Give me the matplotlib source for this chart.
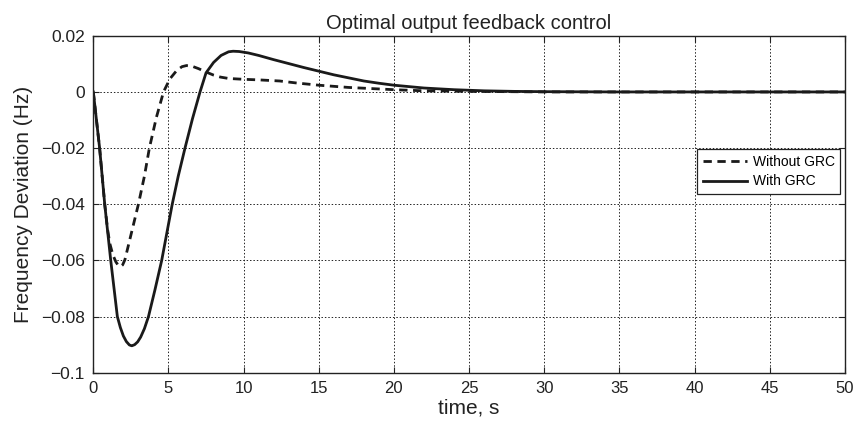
import matplotlib.pyplot as plt
import numpy as np

plt.rcParams['font.family'] = ['Liberation Sans', 'DejaVu Sans']

# With GRC (solid)
t_grc = [0, 0.42, 0.76, 1.16, 1.6, 1.8, 2.0, 2.2, 2.4, 2.56, 2.75, 2.95, 3.15,
         3.4, 3.67, 4.1, 4.55, 4.9, 5.25, 5.65, 6.1, 6.6, 7.1, 7.5, 8.0, 8.5,
         9.0, 9.3, 9.7, 10.3, 11, 12, 13, 14, 15, 16, 17, 18, 19, 20, 22, 24,
         26, 28, 30, 35, 50]
f_grc = [0, -0.020, -0.040, -0.060, -0.080, -0.0839, -0.0869, -0.0889, -0.0901,
         -0.0904, -0.0900, -0.0890, -0.0873, -0.0843, -0.080, -0.0705, -0.060,
         -0.050, -0.040, -0.030, -0.020, -0.0095, 0, 0.0068, 0.0105, 0.0130,
         0.0143, 0.0145, 0.0144, 0.0139, 0.0130, 0.0115, 0.0101, 0.0087, 0.0074,
         0.0061, 0.0050, 0.0039, 0.0031, 0.0024, 0.0014, 0.0008, 0.0004, 0.0002,
         0.0001, 0, 0]

# Without GRC (dashed)
t_nogrc = [0, 0.42, 0.76, 0.95, 1.1, 1.3, 1.5, 1.65, 1.82, 1.95, 2.1, 2.5, 3.0,
           3.4, 3.73, 4.2, 4.67, 5.1, 5.56, 5.9, 6.2, 6.6, 7.0, 7.5, 8.0, 8.45,
           9.0, 10, 11, 12.4, 13.5, 15, 17, 20, 22, 25, 30, 50]
f_nogrc = [0, -0.020, -0.040, -0.049, -0.054, -0.058, -0.0605, -0.0617, -0.0622,
           -0.0616, -0.0598, -0.051, -0.040, -0.030, -0.020, -0.009, 0, 0.0047,
           0.0077, 0.0090, 0.0094, 0.0091, 0.0083, 0.0071, 0.0060, 0.0053, 0.0048,
           0.0045, 0.0043, 0.0039, 0.0032, 0.0024, 0.0016, 0.0008, 0.0004, 0.0002,
           0, 0]

fig = plt.figure(figsize=(8.56, 4.26), dpi=100)
ax = fig.add_axes([0.109, 0.125, 0.878, 0.791])

ax.plot(t_nogrc, f_nogrc, '--', color='#1a1a1a', linewidth=2.0, dashes=(3, 2),
        label='Without GRC')
ax.plot(t_grc, f_grc, '-', color='#1a1a1a', linewidth=2.0, label='With GRC')

ax.set_xlim(0, 50)
ax.set_ylim(-0.1, 0.02)
ax.set_xticks(np.arange(0, 51, 5))
ax.set_yticks([-0.1, -0.08, -0.06, -0.04, -0.02, 0, 0.02])
ax.set_yticklabels(['\u22120.1', '\u22120.08', '\u22120.06', '\u22120.04', '\u22120.02', '0', '0.02'])
ax.grid(True, linestyle=(0, (1.5, 2)), color='#222222', linewidth=0.7)
ax.tick_params(direction='in', top=True, right=True, length=4,
               colors='#222222', pad=6)
ax.tick_params(axis='y', labelsize=12.5)
ax.tick_params(axis='x', labelsize=12)
for s in ax.spines.values():
    s.set_linewidth(1.0)
    s.set_color('#222222')

ax.set_title('Optimal output feedback control', fontsize=14.5, color='#222222', pad=5)
ax.set_xlabel('time, s', fontsize=15, color='#222222', labelpad=2)
ax.set_ylabel('Frequency Deviation (Hz)', fontsize=15, color='#222222', labelpad=6)

leg = ax.legend(loc='upper right', bbox_to_anchor=(0.994, 0.663), fontsize=10,
                handlelength=3.2, handletextpad=0.4, borderpad=0.4, labelspacing=0.4,
                fancybox=False, framealpha=1, edgecolor='#222222', borderaxespad=0)
leg.get_frame().set_linewidth(0.9)

plt.savefig('out.png')
